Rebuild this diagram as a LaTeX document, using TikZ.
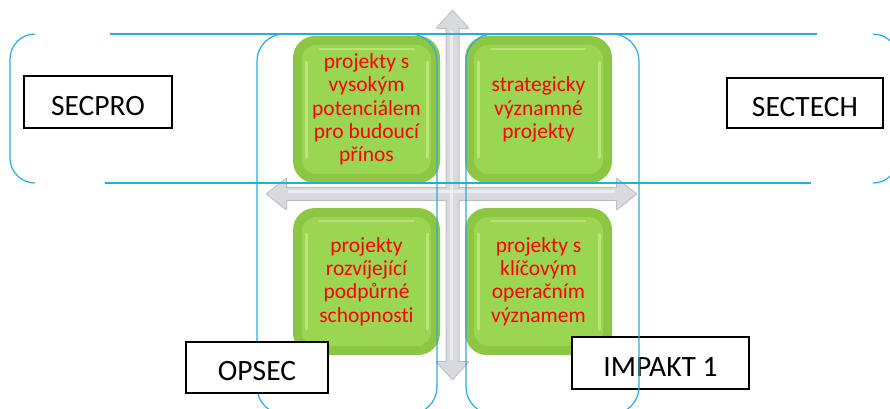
\documentclass[tikz,border=0pt]{standalone}
\usepackage{fontspec}
\setmainfont{Carlito}[Ligatures={NoCommon}]
\definecolor{lblue}{RGB}{41,171,226}
\definecolor{gOuter}{RGB}{140,198,66}
\definecolor{gFace}{RGB}{155,214,82}
\definecolor{gRim}{RGB}{214,242,150}
\definecolor{arrowgray}{RGB}{216,218,222}
\definecolor{arrowedge}{RGB}{186,189,195}
\begin{document}
\begin{tikzpicture}[x=1pt,y=-1pt,
  blueline/.style={draw=lblue, line width=1.2pt},
  greenbox/.style={rounded corners=22pt, fill=gOuter, minimum width=147pt, minimum height=147pt,
    inner sep=0pt, align=center, text=red, font=\fontsize{21.5}{23.3}\selectfont,
    path picture={
      \fill[gFace, rounded corners=14pt]
        ([shift={(9pt,-9pt)}]path picture bounding box.north west) rectangle
        ([shift={(-9pt,9pt)}]path picture bounding box.south east);
      \draw[gRim, line width=3pt, opacity=0.55, line cap=round]
        ([shift={(13pt,-26pt)}]path picture bounding box.north west) --
        ([shift={(13pt,26pt)}]path picture bounding box.south west);
      \draw[gRim, line width=3pt, opacity=0.55, line cap=round]
        ([shift={(-13pt,-26pt)}]path picture bounding box.north east) --
        ([shift={(-13pt,26pt)}]path picture bounding box.south east);
      \draw[gRim, line width=1.2pt, opacity=0.5]
        ([shift={(26pt,-13pt)}]path picture bounding box.north west) --
        ([shift={(-26pt,-13pt)}]path picture bounding box.north east);
    }},
  labelbox/.style={draw=black, line width=1.3pt, fill=white, inner sep=0pt,
    font=\fontsize{29.5}{31}\selectfont, text height=26pt, text depth=0pt},
  arrowshape/.style={fill=arrowgray}
]
\useasboundingbox (0,0) rectangle (890,408);
\clip (0,0) rectangle (890,408);

% gray double arrows (outline of union, then fill)
\draw[arrowedge, line width=2pt, line join=round]
  (452.5,11) -- (468,28) -- (458.5,28) -- (458.5,362) -- (468,362) -- (452.5,379)
  -- (437,362) -- (446.5,362) -- (446.5,28) -- (437,28) -- cycle;
\draw[arrowedge, line width=2pt, line join=round]
  (267,194) -- (286,179) -- (286,188) -- (617,188) -- (617,179) -- (636,194)
  -- (617,209) -- (617,200) -- (286,200) -- (286,209) -- cycle;
\fill[arrowshape]
  (452.5,11) -- (468,28) -- (458.5,28) -- (458.5,362) -- (468,362) -- (452.5,379)
  -- (437,362) -- (446.5,362) -- (446.5,28) -- (437,28) -- cycle;
\fill[arrowshape]
  (267,194) -- (286,179) -- (286,188) -- (617,188) -- (617,179) -- (636,194)
  -- (617,209) -- (617,200) -- (286,200) -- (286,209) -- cycle;
\fill[white, opacity=0.5] (450,30) rectangle (453,360);
\fill[white, opacity=0.5] (288,190) rectangle (615,193);

% green quadrants
\node[greenbox] (tl) at (366.5,109.5) {projekty s\\vysokým\\potenciálem\\pro budoucí\\přínos};
\node[greenbox] (tr) at (538.5,109.5) {strategicky\\významné\\projekty};
\node[greenbox] (bl) at (366.5,281.5) {projekty\\rozvíjející\\podpůrné\\schopnosti};
\node[greenbox] (br) at (538.5,281.5) {projekty s\\klíčovým\\operačním\\významem};

% labels
\node[labelbox, minimum width=148pt, minimum height=52pt] (secpro) at (98,102) {SECPRO};
\node[labelbox, minimum width=156pt, minimum height=50pt] (sectech) at (805,103) {SECTECH};
\node[labelbox, minimum width=177pt, minimum height=52pt] (impakt) at (660.5,363) {IMPAKT 1};

% blue outlines
\draw[blueline] (110,34) -- (817,34);
\draw[blueline] (105,183) -- (811,183);
\draw[blueline, rounded corners=25pt] (35,34) -- (10,34) -- (10,183) -- (35,183);
\draw[blueline, rounded corners=25pt] (873,34) -- (898,34) -- (898,183) -- (873,183);
\draw[blueline, rounded corners=27pt] (257,34) rectangle (437,414);
\draw[blueline, rounded corners=27pt] (466,34) rectangle (639,414);

\node[labelbox, minimum width=142pt, minimum height=51pt] (opsec) at (257,367.5) {OPSEC};
\end{tikzpicture}
\end{document}
